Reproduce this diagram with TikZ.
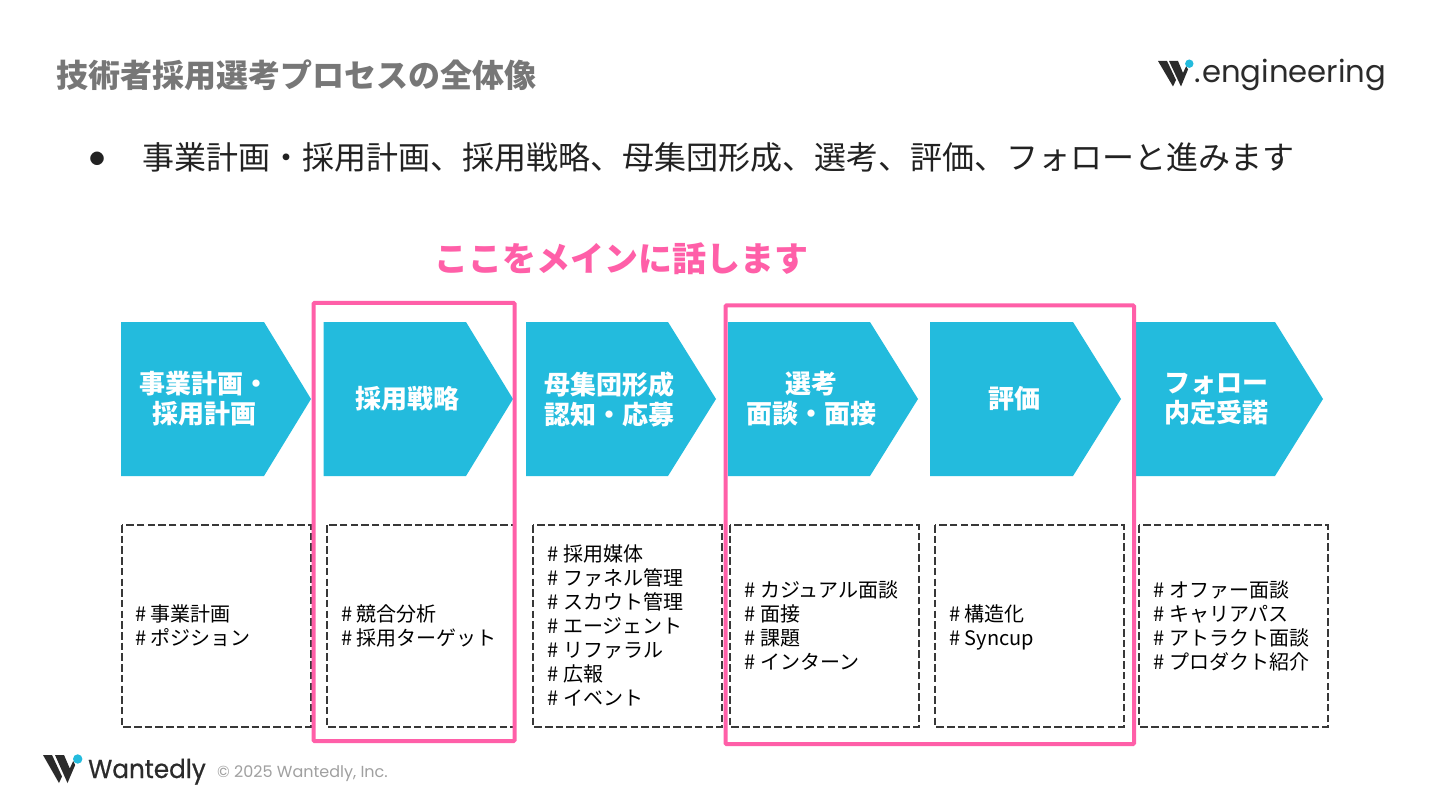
\documentclass[tikz,border=0pt]{standalone}
\usepackage{fontspec}
\setmainfont{Noto Sans CJK JP}
\newfontfamily\popfont{Poppins}
\newfontfamily\popbold{Poppins}[FakeBold=0.6,FakeStretch=0.95]
\definecolor{chevblue}{HTML}{23BBDD}
\definecolor{hotpink}{HTML}{FF5FA8}
\definecolor{titlegrey}{HTML}{777777}
\definecolor{inkdark}{HTML}{222222}
\definecolor{logodark}{HTML}{2B2B2B}
\definecolor{copygrey}{HTML}{A0A0A0}
\tikzset{
  chevshape/.style={fill=chevblue,draw=none},
  chevtext/.style={text=white,font=\fontsize{26}{30}\selectfont\bfseries,align=center,inner sep=0pt},
  dashbox/.style={draw=inkdark!90,dash pattern=on 7.5pt off 3.2pt,line width=1.5pt},
  tagtext/.style={text=black,font=\fontsize{20}{24}\selectfont,align=left,anchor=west,inner sep=0pt},
  pinkframe/.style={draw=hotpink,line width=4pt,rounded corners=1pt},
  logopart/.style={fill=logodark,draw=none}
}
\newcommand{\chevron}[3]{% left, shoulder, tip
  \path[chevshape] (#1,322) -- (#2,322) -- (#3,399) -- (#2,476) -- (#1,476) -- cycle;
}
\begin{document}
\begin{tikzpicture}[x=1pt,y=-1pt]
\useasboundingbox (0,0) rectangle (1440,810);
\fill[white] (0,0) rectangle (1440,810);
\node[anchor=west,inner sep=0pt,text=titlegrey,font=\fontsize{32}{38}\selectfont\bfseries] (title) at (56,75) {技術者採用選考プロセスの全体像};
% header logo
\path[logopart] (1158,61) -- (1167,61) -- (1176,80) -- (1173,86.5) -- cycle;
\path[logopart] (1169,61) -- (1178,61) -- (1183,73) -- (1186.2,66) -- (1188,69.5) -- (1181,86.5) -- cycle;
\fill[chevblue] (1189.3,63.7) circle (4.2);
\node[anchor=base west,inner sep=0pt,text=logodark,font=\popfont\fontsize{30.7}{34}\selectfont] (eng) at (1194,83) {.\kern1.5pt engineering};
% bullet
\node[inner sep=0pt,text=inkdark,font=\fontsize{15}{18}\selectfont] (bullet) at (97,159) {●};
\node[anchor=west,inner sep=0pt,text=inkdark,font=\fontsize{32}{38}\selectfont] (lead) at (142,157) {事業計画・採用計画、採用戦略、母集団形成、選考、評価、フォローと進みます};
\node[anchor=west,inner sep=0pt,text=hotpink,font=\fontsize{34}{40}\selectfont\bfseries] (main) at (434,259) {ここをメインに話します};
% chevrons
\chevron{121}{264}{311}
\chevron{323.5}{466}{513}
\chevron{526}{668}{716}
\chevron{728}{870}{918}
\chevron{930}{1073}{1121}
\chevron{1133}{1275}{1323}
\node[chevtext] (c1) at (204,399) {事業計画・\\採用計画};
\node[chevtext] (c2) at (407,399) {採用戦略};
\node[chevtext] (c3) at (609,399) {母集団形成\\認知・応募};
\node[chevtext] (c4) at (811,399) {選考\\面談・面接};
\node[chevtext] (c5) at (1014,399) {評価};
\node[chevtext] (c6) at (1216,399.5) {フォロー\\内定受諾};
% dashed boxes
\draw[dashbox] (122,525) rectangle (311,727);
\draw[dashbox] (327,525) rectangle (515,727);
\draw[dashbox] (533,525) rectangle (722,727);
\draw[dashbox] (730,525) rectangle (919,727);
\draw[dashbox] (935,525) rectangle (1124,727);
\draw[dashbox] (1139,525) rectangle (1328,727);
\node[tagtext] (t1) at (135,626) {\# 事業計画\\\# ポジション};
\node[tagtext] (t2) at (341,626) {\# 競合分析\\\# 採用ターゲット};
\node[tagtext] (t3) at (547.5,625) {\# 採用媒体\\\# ファネル管理\\\# スカウト管理\\\# エージェント\\\# リファラル\\\# 広報\\\# イベント};
\node[tagtext] (t4) at (744.5,626) {\# カジュアル面談\\\# 面接\\\# 課題\\\# インターン};
\node[tagtext] (t5) at (949,627) {\# 構造化\\\# Syncup};
\node[tagtext] (t6) at (1153.5,626) {\# オファー面談\\\# キャリアパス\\\# アトラクト面談\\\# プロダクト紹介};
% pink frames
\draw[pinkframe] (313.5,303) rectangle (514.5,741);
\draw[pinkframe] (725.5,305.5) rectangle (1134,744);
% footer logo
\path[logopart] (43,755) -- (52,755) -- (62,776.5) -- (59,783) -- cycle;
\path[logopart] (55,755) -- (64,755) -- (69.8,768.5) -- (73.2,761) -- (75.2,765) -- (67.5,783) -- cycle;
\fill[chevblue] (77.7,759) circle (4.7);
\node[anchor=base west,inner sep=0pt,text=logodark,font=\popbold\fontsize{26}{30}\selectfont] (want) at (88,778) {Wantedly};
\node[anchor=base west,inner sep=0pt,text=copygrey,font=\popfont\fontsize{16}{18}\selectfont] (copy) at (217,777) {© 2025 Wantedly, Inc.};
\end{tikzpicture}
\end{document}
